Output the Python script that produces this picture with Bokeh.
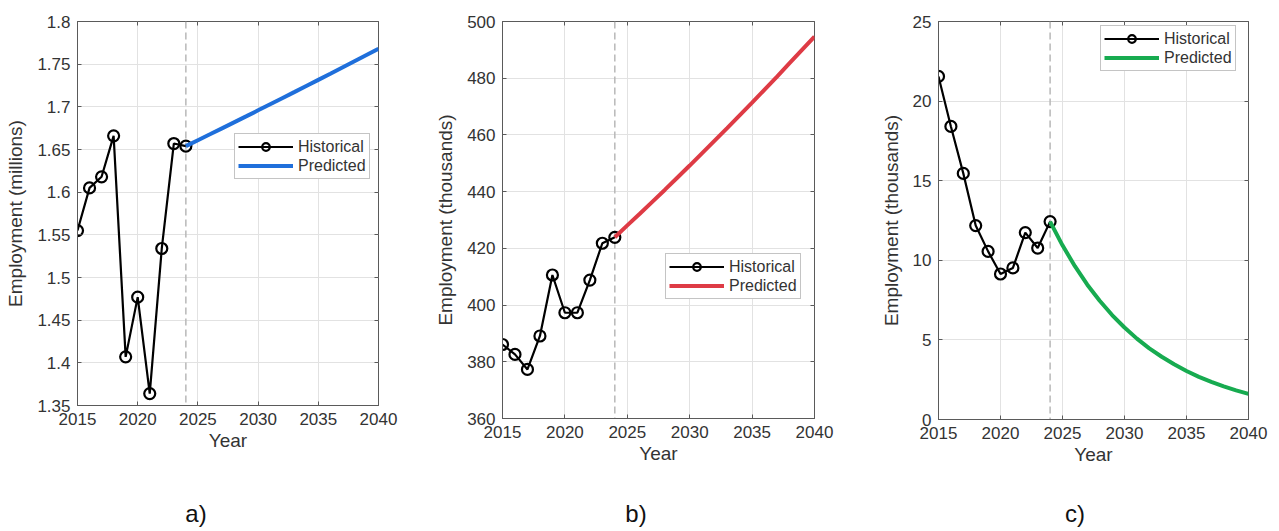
from bokeh.plotting import figure
from bokeh.models import (Range1d, FixedTicker, Span, Legend, LegendItem, LinearAxis,
                          CustomJSTickFormatter, Div)
from bokeh.layouts import row, column
from bokeh.embed import file_html
from bokeh.resources import INLINE

# ---------------- data ----------------
years_hist = [2015, 2016, 2017, 2018, 2019, 2020, 2021, 2022, 2023, 2024]
years_pred = [2024, 2025, 2026, 2027, 2028, 2029, 2030, 2031, 2032, 2033,
              2034, 2035, 2036, 2037, 2038, 2039, 2040]
split_year = 2024

# a) employment (millions)
emp_a_hist = [1.555, 1.605, 1.618, 1.666, 1.407, 1.477, 1.364, 1.534, 1.657, 1.654]
emp_a_pred = [1.6540, 1.6609, 1.6678, 1.6748, 1.6818, 1.6888, 1.6959, 1.7030, 1.7101,
              1.7172, 1.7244, 1.7316, 1.7388, 1.7461, 1.7534, 1.7607, 1.7680]

# b) employment (thousands)
emp_b_hist = [386.1, 382.6, 377.3, 389.1, 410.6, 397.3, 397.3, 408.8, 421.8, 423.9]
emp_b_pred = [423.9, 428.1, 432.2, 436.4, 440.6, 444.9, 449.2, 453.6, 458.0, 462.4,
              466.9, 471.4, 476.0, 480.6, 485.3, 490.0, 494.7]

# c) employment (thousands)
emp_c_hist = [21.55, 18.41, 15.46, 12.18, 10.56, 9.14, 9.52, 11.74, 10.77, 12.43]
emp_c_pred = [12.43, 10.94, 9.63, 8.47, 7.46, 6.56, 5.78, 5.08, 4.47, 3.94,
              3.47, 3.05, 2.68, 2.36, 2.08, 1.83, 1.61]

x_ticks = [2015, 2020, 2025, 2030, 2035, 2040]
y_ticks_a = [1.35, 1.4, 1.45, 1.5, 1.55, 1.6, 1.65, 1.7, 1.75, 1.8]
y_ticks_b = [360, 380, 400, 420, 440, 460, 480, 500]
y_ticks_c = [0, 5, 10, 15, 20, 25]

series_labels = ["Historical", "Predicted"]
x_label = "Year"
y_label_a = "Employment (millions)"
y_label_b = "Employment (thousands)"
y_label_c = "Employment (thousands)"
panel_tags = ["a)", "b)", "c)"]

# ---------------- styles ----------------
FONT = "Liberation Sans"
AX_COL = "#5a5a5a"
TXT_COL = "#333333"
GRID_COL = "#e2e2e2"


def make_panel(hist_y, pred_y, y_ticks, ylabel, color, fw, fh, bl, br, bt, bb, leg_loc):
    p = figure(frame_width=fw, frame_height=fh,
               x_range=Range1d(x_ticks[0], x_ticks[-1]),
               y_range=Range1d(y_ticks[0], y_ticks[-1]),
               output_backend="svg", toolbar_location=None,
               min_border_left=bl, min_border_right=br,
               min_border_top=bt, min_border_bottom=bb,
               background_fill_color="white", border_fill_color="white",
               outline_line_color=AX_COL, outline_line_width=1)

    p.xaxis.ticker = FixedTicker(ticks=x_ticks)
    p.yaxis.ticker = FixedTicker(ticks=y_ticks)
    p.yaxis.formatter = CustomJSTickFormatter(
        code="return Number(tick.toFixed(4)).toString();")

    for ax in (p.xaxis[0], p.yaxis[0]):
        ax.axis_line_color = AX_COL
        ax.major_tick_line_color = AX_COL
        ax.major_tick_in = 4
        ax.major_tick_out = 0
        ax.minor_tick_in = 0
        ax.minor_tick_out = 0
        ax.major_label_text_font = FONT
        ax.major_label_text_font_size = "17px"
        ax.major_label_text_color = TXT_COL
        ax.axis_label_text_font = FONT
        ax.axis_label_text_font_size = "19px"
        ax.axis_label_text_font_style = "normal"
        ax.axis_label_text_color = TXT_COL
        ax.major_label_standoff = 7

    p.xaxis.axis_label = x_label
    p.xaxis.axis_label_standoff = 2
    p.yaxis.axis_label = ylabel
    p.yaxis.axis_label_standoff = 8

    # ticks on top and right sides (box)
    for loc, tk in (("above", x_ticks), ("right", y_ticks)):
        ax = LinearAxis(ticker=FixedTicker(ticks=tk),
                        formatter=CustomJSTickFormatter(code="return '';"),
                        axis_line_color=None, major_tick_line_color=AX_COL,
                        major_tick_in=4, major_tick_out=0,
                        minor_tick_in=0, minor_tick_out=0,
                        major_label_standoff=0)
        p.add_layout(ax, loc)

    p.xgrid.grid_line_color = GRID_COL
    p.ygrid.grid_line_color = GRID_COL
    p.xgrid.grid_line_width = 1
    p.ygrid.grid_line_width = 1

    span = Span(location=split_year, dimension="height", line_color="#b8b8b8",
                line_width=1.5, line_dash="7 4", level="underlay")
    p.add_layout(span)

    hl = p.line(years_hist, hist_y, line_color="black", line_width=2.2)
    hs = p.scatter(years_hist, hist_y, marker="circle", size=11,
                   fill_color=None, line_color="black", line_width=2.2)
    pl = p.line(years_pred, pred_y, line_color=color, line_width=4)

    legend = Legend(items=[LegendItem(label=series_labels[0], renderers=[hl, hs]),
                           LegendItem(label=series_labels[1], renderers=[pl])],
                    location=leg_loc, orientation="vertical",
                    border_line_color="#8a8a8a", border_line_width=1,
                    background_fill_color="white", background_fill_alpha=1,
                    label_text_font=FONT, label_text_font_size="16px",
                    label_text_color=TXT_COL, padding=3, spacing=0,
                    glyph_width=55, glyph_height=19, label_height=19,
                    label_standoff=5, margin=0)
    p.add_layout(legend)
    return p


pa = make_panel(emp_a_hist, emp_a_pred, y_ticks_a, y_label_a, "#1f6fdb",
                301, 384, 77, 42, 21, 65, (157, 226))
pb = make_panel(emp_b_hist, emp_b_pred, y_ticks_b, y_label_b, "#de3b45",
                312, 397, 82, 36, 18, 55, (163, 119))
pc = make_panel(emp_c_hist, emp_c_pred, y_ticks_c, y_label_c, "#17ab50",
                310, 398, 88, 30, 14, 58, (162, 348))


def tag_div(text, w):
    return Div(text=f'<div style="width:{w}px;text-align:center;font-family:\'{FONT}\';'
                    f'font-size:24px;line-height:28px;padding-top:30px;color:#111;">{text}</div>',
               width=w, height=61, margin=0,
               styles={"width": f"{w}px", "text-align": "center"})


tags = row(tag_div(panel_tags[0], 392), tag_div(panel_tags[1], 488),
           tag_div(panel_tags[2], 390), spacing=0)

layout = column(row(pa, pb, pc, spacing=0), tags, spacing=0)

open("out.html", "w").write(file_html(layout, INLINE))
